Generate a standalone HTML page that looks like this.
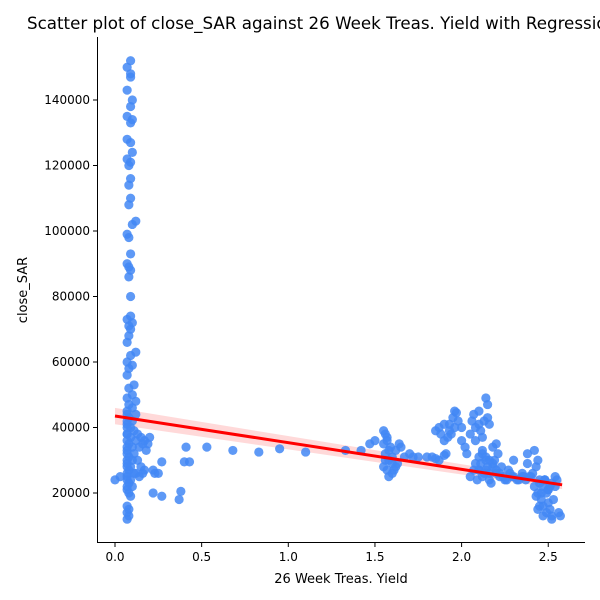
<!DOCTYPE html>
<html><head><meta charset="utf-8"><style>
body{margin:0;background:#fff;}
svg{display:block;font-family:"DejaVu Sans","Liberation Sans",sans-serif;}
</style></head><body>
<svg id="chart" width="600" height="600">
<text x="27" y="29" font-size="16.7" fill="#000">Scatter plot of close_SAR against 26 Week Treas. Yield with Regression Line</text>
<g id="band"></g>
<g id="pts"></g>
<g id="reg"></g>
<g id="axes"></g>
<text x="341" y="583" font-size="13" text-anchor="middle">26 Week Treas. Yield</text>
<text transform="translate(27,290) rotate(-90)" font-size="13" text-anchor="middle">close_SAR</text>
</svg>
<script>
const xTicks=[0.0,0.5,1.0,1.5,2.0,2.5];
const yTicks=[20000,40000,60000,80000,100000,120000,140000];
const regX=[0.0,2.58];
const regY=[43500,22500];
const regLo=[41000,21200];
const regHi=[46000,23800];
const leftY=[152000,150000,148000,147000,143000,140000,138000,135000,134000,133000,128000,127000,124000,122000,121000,120000,116000,114000,110000,108000,103000,102000,99000,98000,93000,90000,89000,88000,86000,80000,74000,73000,72000,71000,70000,68000,66000,63000,62000,60000,59000,58000,56000,53000,52000,50000,49000,48000,47000,46000,45000,44000,43000,42000,41000,40000,39000,38000,37000,36000,35000,34000,33000,32000,31000,30000,29000,28000,27000,26000,25000,24000,23000,22000,21000,20000,19000,16000,15000,14000,13000,12000,44000,42000,40000,38000,36000,34000,32000,30000,28000,26000,24000,22000];
const leftX=[0.09,0.07,0.09,0.09,0.07,0.1,0.09,0.07,0.1,0.09,0.07,0.09,0.1,0.07,0.09,0.08,0.09,0.08,0.09,0.08,0.12,0.1,0.07,0.08,0.09,0.07,0.08,0.09,0.08,0.09,0.09,0.07,0.1,0.08,0.09,0.08,0.07,0.12,0.09,0.07,0.1,0.08,0.07,0.11,0.08,0.1,0.07,0.12,0.08,0.1,0.07,0.12,0.08,0.1,0.07,0.09,0.11,0.07,0.09,0.12,0.08,0.1,0.07,0.11,0.08,0.1,0.07,0.09,0.08,0.11,0.07,0.09,0.08,0.1,0.07,0.08,0.09,0.07,0.08,0.07,0.08,0.07,0.07,0.07,0.07,0.07,0.07,0.07,0.07,0.07,0.07,0.07,0.07,0.07];
const midX=[0.13,0.15,0.17,0.19,0.14,0.16,0.18,0.13,0.15,0.17,0.12,0.14,0.16,0.2,0.0,0.03,0.22,0.23,0.22,0.27,0.27,0.25,0.37,0.38,0.4,0.41,0.43,0.53,0.68,0.83,0.95,1.1,1.33,1.42,1.47,1.5];
const midY=[38000,37000,36000,35000,34000,35000,33000,30000,28000,27000,26000,25000,26000,37000,24000,25000,27000,26000,20000,19000,29500,26000,18000,20500,29500,34000,29500,34000,33000,32500,33500,32500,33000,33000,35000,36000];
const rightX=[1.55,1.56,1.57,1.55,1.58,1.56,1.55,1.57,1.58,1.6,1.62,1.63,1.6,1.62,1.64,1.65,1.67,1.7,1.72,1.75,1.8,1.83,1.85,1.87,1.9,1.91,1.85,1.87,1.88,1.9,1.9,1.92,1.93,1.95,1.96,1.97,1.98,2.0,2.0,2.02,2.03,2.05,2.06,2.07,2.08,2.08,2.1,2.1,2.12,2.14,2.15,2.15,2.16,2.05,2.07,2.09,2.11,2.13,2.15,2.17,2.19,2.2,2.21,2.22,2.12,2.14,2.16,2.18,2.2,2.23,2.25,2.27,2.29,2.3,2.32,2.35,2.37,2.38,2.4,2.42,2.43,2.44,2.45,2.42,2.43,2.44,2.46,2.47,2.48,2.5,2.51,2.52,2.53,2.55,2.56,2.57,2.45,2.47,2.49,2.51,2.54,2.44,2.46,2.48,2.5,2.52,2.35,2.38,2.2,2.1,1.56,1.58,1.6,1.57,1.59,1.61,2.08,2.1,2.12,2.14,2.16,2.18,2.1,2.12,2.14,2.16,2.18,2.22,2.24,2.26,2.28,2.3,2.33,2.36,2.39,2.41,2.45,2.48,2.5,2.52,2.54,2.47,2.49,1.94,1.96,1.93,2.11,2.13];
const rightY=[39000,38000,37000,35000,33000,30000,28000,27000,25000,26000,28000,29000,31000,33000,35000,34000,31000,32000,31000,31000,31000,31000,30500,30000,31500,32000,39000,40000,38000,36000,41000,37000,39000,43000,45000,44500,42000,40000,36000,34000,32000,38000,42000,44000,40000,36000,45000,41000,37000,49000,47000,43000,41000,25000,27000,24000,29000,26000,28000,23000,30000,27000,32000,25000,32000,30000,24000,34000,26000,28000,24000,27000,25000,30000,24000,26000,24000,32000,25000,33000,28000,30000,24000,22000,19000,15000,20000,13000,24000,17000,22000,13000,18000,24000,14000,13000,16000,22000,14000,15000,25000,20000,18000,24000,21000,12000,25000,29000,35000,27000,32000,30000,29000,36000,34000,27000,29000,27000,25000,27000,26000,28000,31000,33000,31000,30000,29000,26000,25000,24000,26000,25000,24000,25000,25000,26000,23000,24000,21000,23000,22000,16000,20000,38000,40000,41000,39000,42000];
const X0=115,XS=173.3,Y20=493,YS=65.5/20000;
function sx(v){return X0+v*XS;}
function sy(v){return Y20-(v-20000)*YS;}
const NS="http://www.w3.org/2000/svg";
function mk(t,a,p){const e=document.createElementNS(NS,t);for(const k in a)e.setAttribute(k,a[k]);p.appendChild(e);return e;}
const pts=document.getElementById('pts');
function plot(xs,ys){for(let i=0;i<xs.length;i++){const c=mk('circle',{cx:sx(xs[i]),cy:sy(ys[i]),r:4.6,fill:'#4287f5','fill-opacity':0.85},pts);

}}
plot(leftX,leftY);plot(midX,midY);plot(rightX,rightY);
const band=document.getElementById('band');
const bp=mk('polygon',{points:`${sx(regX[0])},${sy(regHi[0])} ${sx(regX[1])},${sy(regHi[1])} ${sx(regX[1])},${sy(regLo[1])} ${sx(regX[0])},${sy(regLo[0])}`,fill:'#ff0000','fill-opacity':0.15},band);


const rl=mk('line',{x1:sx(regX[0]),y1:sy(regY[0]),x2:sx(regX[1]),y2:sy(regY[1]),stroke:'#ff0000','stroke-width':3},document.getElementById('reg'));


const ax=document.getElementById('axes');
mk('line',{x1:97.5,y1:37,x2:97.5,y2:542.5,stroke:'#000','stroke-width':1},ax);
mk('line',{x1:97,y1:542.5,x2:585,y2:542.5,stroke:'#000','stroke-width':1},ax);
xTicks.forEach(t=>{const x=sx(t);mk('line',{x1:x,y1:542,x2:x,y2:547,stroke:'#000'},ax);
const tx=mk('text',{x:x,y:561,'font-size':12,'text-anchor':'middle'},ax);tx.textContent=t.toFixed(1);

});
yTicks.forEach(t=>{const y=sy(t);mk('line',{x1:93,y1:y,x2:97,y2:y,stroke:'#000'},ax);
const tx=mk('text',{x:90,y:y+4,'font-size':12,'text-anchor':'end'},ax);tx.textContent=t;

});
</script>
</body></html>
